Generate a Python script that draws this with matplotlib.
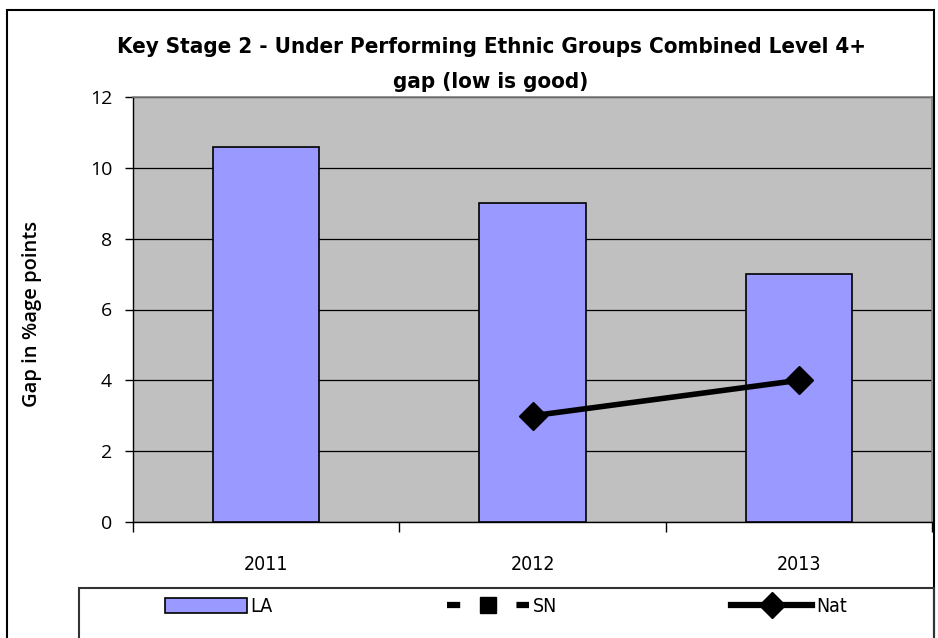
import matplotlib
matplotlib.use("Agg")
import matplotlib.pyplot as plt
from matplotlib.patches import Rectangle, Patch
from matplotlib.lines import Line2D
import numpy as np

years = ["2011", "2012", "2013"]
la_values = [10.6, 9.0, 7.0]
nat_years = ["2012", "2013"]
nat_values = [3.0, 4.0]
y_ticks = [0, 2, 4, 6, 8, 10, 12]

W, H = 938, 638
fig = plt.figure(figsize=(W / 100, H / 100), dpi=100)
narrow = ['DejaVu Sans']

ax = fig.add_axes([133 / W, 1 - 522 / H, (932 - 133) / W, (522 - 97) / H])
ax.set_facecolor('#C0C0C0')

x = np.arange(len(years))
ax.bar(x, la_values, width=0.40, color='#9999FF', edgecolor='black', linewidth=1.2, zorder=3)
nat_x = [years.index(y) for y in nat_years]
ax.plot(nat_x, nat_values, color='black', linewidth=4, marker='D', markersize=14, zorder=4)

ax.set_xlim(-0.5, len(years) - 0.5)
ax.set_ylim(0, 12)
ax.set_yticks(y_ticks)
ax.yaxis.grid(True, color='black', linewidth=0.9, zorder=1)
ax.set_axisbelow(True)

ax.set_xticks(x)
ax.set_xticklabels(years, fontfamily=narrow, fontsize=14, fontstretch='condensed')
ax.set_xticks(np.arange(len(years) + 1) - 0.5, minor=True)
ax.tick_params(axis='x', which='major', length=0, pad=24)
ax.tick_params(axis='x', which='minor', length=7, width=1, direction='out')
ax.tick_params(axis='y', length=6, width=1, direction='out', pad=9, labelsize=14)
for lab in ax.get_yticklabels():
    lab.set_fontfamily(['Open Sans', 'DejaVu Sans'])

for s in ['left', 'bottom']:
    ax.spines[s].set_color('black')
    ax.spines[s].set_linewidth(1)
for s in ['top', 'right']:
    ax.spines[s].set_color('#808080')
    ax.spines[s].set_linewidth(1.2)

fig.text(32 / W, 1 - 314 / H, "Gap in %age points", rotation=90, ha='center', va='center',
         fontsize=14.5, fontweight='semibold', fontfamily=['Open Sans', 'DejaVu Sans'])

fig.text(491 / W, 1 - 47 / H, "Key Stage 2 - Under Performing Ethnic Groups Combined Level 4+",
         ha='center', va='center', fontsize=16, fontweight='bold', fontfamily=narrow,
         fontstretch='condensed')
fig.text(491 / W, 1 - 82 / H, "gap (low is good)",
         ha='center', va='center', fontsize=16, fontweight='bold', fontfamily=narrow,
         fontstretch='condensed')

# figure frame and legend box
fig.patches.append(Rectangle((7 / W, -0.1), (934 - 7) / W, 1.1 - 10 / H, transform=fig.transFigure,
                             fill=False, edgecolor='black', linewidth=1.5))
fig.patches.append(Rectangle((79 / W, -0.1), (934 - 79) / W, 0.1 + 1 - 588 / H, transform=fig.transFigure,
                             fill=False, edgecolor='#333333', linewidth=1.5))

matplotlib.rcParams['lines.scale_dashes'] = False
h_la = Patch(facecolor='#9999FF', edgecolor='black', linewidth=1.2)
h_sn = Line2D([], [], color='black', linewidth=4.5, dashes=(9.5, 15.5), marker='s', markersize=12)
h_nat = Line2D([], [], color='black', linewidth=4.5, marker='D', markersize=13)
leg = fig.legend([h_la, h_sn, h_nat], ["LA", "SN", "Nat"], loc='center left',
                 bbox_to_anchor=(165 / W, 1 - 607 / H), ncol=3, frameon=False,
                 borderpad=0, borderaxespad=0, handlelength=4.2, handleheight=0.77,
                 handletextpad=0.2, columnspacing=8.95, numpoints=1,
                 prop={'family': narrow, 'size': 14, 'stretch': 'condensed'})

fig.savefig("out.png", dpi=100)
